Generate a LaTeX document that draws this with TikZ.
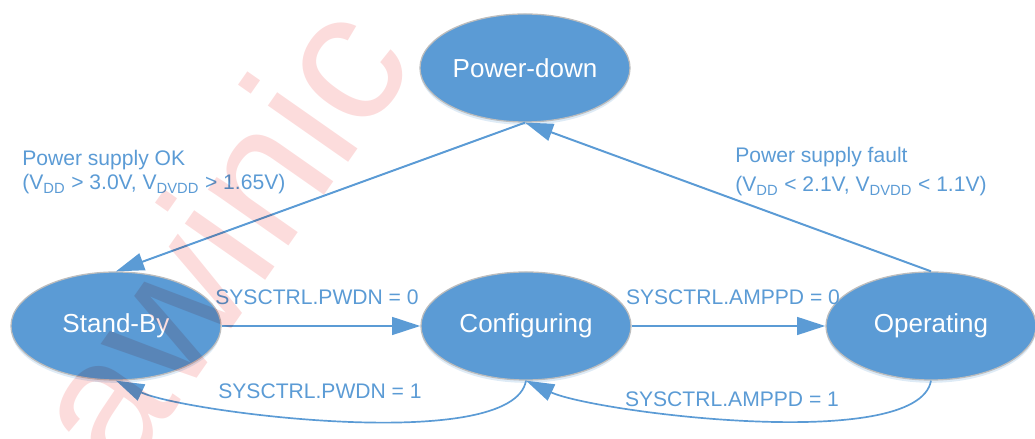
\documentclass[tikz,border=0pt]{standalone}
\usepackage{fontspec}
\setmainfont{Liberation Sans}
\usetikzlibrary{shapes.geometric,arrows.meta,shadows}

\definecolor{stateblue}{HTML}{5B9BD5}
\definecolor{rimgray}{HTML}{BDBDBD}
\definecolor{markpink}{HTML}{FCDCDC}
\newcommand{\vsub}[1]{\textsubscript{#1}}

\begin{document}
\begin{tikzpicture}[x=0.025cm,y=0.025cm,
  state/.style={ellipse,fill=stateblue,draw=rimgray,line width=0.9pt,
    minimum width=5.25cm,minimum height=2.7cm,inner sep=0pt,text=white,
    font=\fontsize{18.5}{22}\selectfont,
    drop shadow={shadow xshift=0pt,shadow yshift=-2pt,fill=stateblue!45,opacity=0.45}},
  lbl/.style={text=stateblue,inner sep=0pt,font=\fontsize{15}{17}\selectfont},
  trans/.style={stateblue,line width=1.8pt,-{Triangle[length=20pt,width=12.5pt]}},
  back/.style={trans,line width=1.2pt},
  supply/.style={trans,line width=1.4pt}]

\useasboundingbox (0,0) rectangle (1035,439);

% states
\node[state] (pdown)   at (525,371) {Power-down};
\node[state] (standby) at (116,113) {Stand-By};
\node[state] (config)  at (526,113) {Configuring};
\node[state] (oper)    at (931,113) {Operating};

% transitions
\draw[trans] (standby) -- (config);
\draw[trans] (config) -- (oper);
\draw[back] (config.south) to[out=-100,in=-25,looseness=0.47] (standby.south);
\draw[back] (oper.south) to[out=-100,in=-25,looseness=0.47] (config.south);
\draw[supply] (oper.north) -- (pdown.south);
\draw[supply] (pdown.south) -- (standby.north);

% conditions
\node[lbl,anchor=base] (pwdnon)   at (317,134) {SYSCTRL.PWDN = 0};
\node[lbl,anchor=base] (pwdnoff)  at (320,40)  {SYSCTRL.PWDN = 1};
\node[lbl,anchor=base] (amppdon)  at (733,134) {SYSCTRL.AMPPD = 0};
\node[lbl,anchor=base] (amppdoff) at (732,32)  {SYSCTRL.AMPPD = 1};

\node[lbl,anchor=base west] (okhead) at (22,273) {Power supply OK};
\node[lbl,anchor=base west] (oklim)  at (22,249)
  {(V\vsub{DD} > 3.0V, V\vsub{DVDD} > 1.65V)};
\node[lbl,anchor=base west] (faulthead) at (735,276) {Power supply fault};
\node[lbl,anchor=base west] (faultlim)  at (735,247)
  {(V\vsub{DD} < 2.1V, V\vsub{DVDD} < 1.1V)};

% watermark
\begin{scope}[blend mode=multiply]
\node[anchor=base west,inner sep=0pt,rotate=55,text=markpink,
  font=\fontsize{132}{132}\selectfont] (mark) at (122,-46) {awinic confidential};
\end{scope}

\end{tikzpicture}
\end{document}
